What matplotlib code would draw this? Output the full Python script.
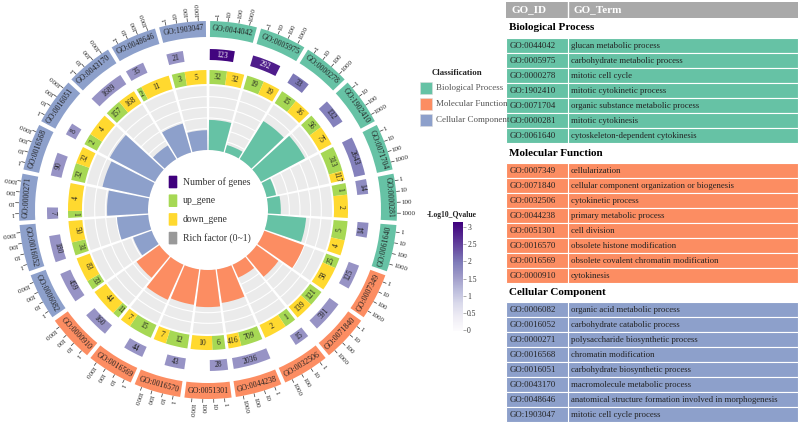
import numpy as np
import matplotlib.pyplot as plt
from matplotlib.patches import Wedge, Rectangle, FancyBboxPatch
from matplotlib import colors, cm

plt.rcParams['font.family'] = ['Liberation Serif', 'DejaVu Serif']

# ---- data ----
go_ids = ['GO:0044042', 'GO:0005975', 'GO:0000278', 'GO:1902410', 'GO:0071704',
          'GO:0000281', 'GO:0061640',
          'GO:0007349', 'GO:0071840', 'GO:0032506', 'GO:0044238', 'GO:0051301',
          'GO:0016570', 'GO:0016569', 'GO:0000910',
          'GO:0006082', 'GO:0016052', 'GO:0000271', 'GO:0016568', 'GO:0016051',
          'GO:0043170', 'GO:0048646', 'GO:1903047']
go_terms = ['glucan metabolic process', 'carbohydrate metabolic process', 'mitotic cell cycle',
            'mitotic cytokinetic process', 'organic substance metabolic process',
            'mitotic cytokinesis', 'cytoskeleton-dependent cytokinesis',
            'cellularization', 'cellular component organization or biogenesis',
            'cytokinetic process', 'primary metabolic process', 'cell division',
            'obsolete histone modification', 'obsolete covalent chromatin modification',
            'cytokinesis',
            'organic acid metabolic process', 'carbohydrate catabolic process',
            'polysaccharide biosynthetic process', 'chromatin modification',
            'carbohydrate biosynthetic process', 'macromolecule metabolic process',
            'anatomical structure formation involved in morphogenesis',
            'mitotic cell cycle process']
group_names = ['Biological Process', 'Molecular Function', 'Cellular Component']
group_sizes = [7, 8, 8]
group_colors = ['#66c2a5', '#fc8d62', '#8da0cb']

gene_num = [123, 292, 33, 132, 2643, 14, 14,
            125, 591, 15, 2036, 28, 43, 44, 160,
            459, 180, 7, 90, 8, 1689, 35, 21]
neg_log_q = [3.1, 2.85, 2.0, 1.9, 1.9, 1.75, 1.75,
             1.65, 1.65, 1.65, 1.65, 1.65, 1.65, 1.65, 1.65,
             1.65, 1.65, 1.65, 1.65, 1.65, 1.65, 1.65, 1.65]
up_gene = [32, 19, 15, 56, 313, 1, 5,
           25, 121, 1, 709, 6, 12, 15, 11,
           33, 31, 1, 32, 2, 157, 2, 3]
down_gene = [32, 19, 16, 75, 117, 2, 4,
             58, 139, 2, 416, 10, 7, 7, 44,
             83, 50, 4, 32, 4, 168, 11, 5]
rich_factor = [0.47, 0.12, 0.70, 0.78, 0.15, 0.20, 0.60,
               0.66, 0.42, 0.22, 0.53, 0.58, 0.56, 0.60, 0.44,
               0.31, 0.49, 0.64, 0.75, 0.80, 0.25, 0.47, 0.31]
tick_labels = ['1', '10', '100', '1000']
cbar_ticks = [0, 0.5, 1, 1.5, 2, 2.5, 3]

sector_color = []
for c, n in zip(group_colors, group_sizes):
    sector_color += [c] * n

up_color = '#a6d854'
down_color = '#ffd92f'
grey_bg = '#ebebeb'
txt_col = '#222222'

W_PX, H_PX = 801, 423
fig = plt.figure(figsize=(W_PX / 100, H_PX / 100), dpi=100)
ax = fig.add_axes([0, 0, 1, 1])
ax.set_xlim(0, W_PX)
ax.set_ylim(0, H_PX)
ax.axis('off')


def Y(y):
    return H_PX - y


CX, CY = 208, Y(210)
n_sec = len(go_ids)
SW = 360.0 / n_sec
GAP = 1.3

cmap = plt.get_cmap('Purples')
norm = colors.Normalize(vmin=-0.03, vmax=3.15)


def ang(i, f):
    start = 90 - i * SW - GAP / 2
    return start - f * (SW - GAP)


def wedge(i, f1, f2, r_in, r_out, color, **kw):
    a1, a2 = ang(i, f2), ang(i, f1)
    ax.add_patch(Wedge((CX, CY), r_out, a1, a2, width=r_out - r_in,
                       facecolor=color, edgecolor='none', **kw))


def polar(r, a):
    t = np.deg2rad(a)
    return CX + r * np.cos(t), CY + r * np.sin(t)


def tan_rot(a):
    return a % 180 - 90


# ---- track radii ----
R_ID = (173, 189)
R_NUM = (150, 161)
R_UD = (126, 140)
R_RICH = (60, 124)

for i in range(n_sec):
    # outer ID track
    wedge(i, 0, 1, R_ID[0], R_ID[1], sector_color[i])
    am = ang(i, 0.5)
    x, y = polar(sum(R_ID) / 2, am)
    ax.text(x, y, go_ids[i], fontsize=5.7, color=txt_col, rotation=tan_rot(am),
            rotation_mode='anchor', ha='center', va='center')
    # log ticks
    for k, lab in enumerate(tick_labels):
        at = ang(i, 0.15 + k * 0.23)
        x0, y0 = polar(R_ID[1] + 0.5, at)
        x1, y1 = polar(R_ID[1] + 3.5, at)
        ax.plot([x0, x1], [y0, y1], color='#333333', lw=0.5)
        xt, yt = polar(R_ID[1] + 4.5, at)
        ax.text(xt, yt, lab, fontsize=5, color=txt_col, rotation=at,
                rotation_mode='anchor', ha='left', va='center')

    # number of genes track
    f = min((np.log10(gene_num[i]) + 0.25) / 3.75, 1)
    wedge(i, 0, f, R_NUM[0], R_NUM[1], cmap(norm(neg_log_q[i])))
    am = ang(i, f / 2)
    x, y = polar(sum(R_NUM) / 2, am)
    ax.text(x, y, str(gene_num[i]), fontsize=5.5,
            color='white' if neg_log_q[i] > 2.5 else txt_col,
            rotation=tan_rot(am), rotation_mode='anchor', ha='center', va='center')

    # up / down track
    tot = up_gene[i] + down_gene[i]
    fu = up_gene[i] / tot
    wedge(i, 0, fu, R_UD[0], R_UD[1], up_color)
    wedge(i, fu, 1, R_UD[0], R_UD[1], down_color)
    for f1, f2, v in [(0, fu, up_gene[i]), (fu, 1, down_gene[i])]:
        am = ang(i, (f1 + f2) / 2)
        x, y = polar(sum(R_UD) / 2, am)
        ax.text(x, y, str(v), fontsize=5.5, color=txt_col, rotation=tan_rot(am),
                rotation_mode='anchor', ha='center', va='center')

    # rich factor background
    wedge(i, 0, 1, R_RICH[0], R_RICH[1], grey_bg)

# white grid circles inside the rich factor track
for k in range(1, 6):
    r = R_RICH[0] + k * (R_RICH[1] - R_RICH[0]) / 6
    ax.add_patch(plt.Circle((CX, CY), r, fill=False, edgecolor='white', lw=0.8))

for i in range(n_sec):
    h = R_RICH[0] + rich_factor[i] * (R_RICH[1] - R_RICH[0])
    wedge(i, 0, 1, R_RICH[0], h, sector_color[i])

# ---- legend in the centre ----
legend_items = [('Number of genes', '#3f007d'), ('up_gene', up_color),
                ('down_gene', down_color), ('Rich factor (0~1)', '#999999')]
for k, (lab, col) in enumerate(legend_items):
    yy = Y(182 + k * 18.7)
    ax.add_patch(FancyBboxPatch((169.5, yy - 5.5), 7, 11, boxstyle='round,pad=0.8',
                                facecolor=col, edgecolor='none'))
    ax.text(183, yy, lab, fontsize=7, color='#333333', ha='left', va='center')

# ---- classification legend ----
ax.text(432, Y(73), 'Classification', fontsize=6.3, fontweight='bold',
        color='#222222', ha='left', va='center')
for k, (lab, col) in enumerate(zip(group_names, group_colors)):
    yy = Y(88 + k * 16)
    ax.add_patch(Rectangle((420, yy - 6), 12, 12, facecolor=col, edgecolor='#dddddd', lw=0.4))
    ax.text(436, yy, lab, fontsize=6.5, color='#555555', ha='left', va='center')

# ---- colour bar ----
ax.text(452, Y(215), '-Log10_Qvalue', fontsize=5.5, fontweight='bold',
        color='#222222', ha='center', va='center')
cax = fig.add_axes([453 / W_PX, (H_PX - 331) / H_PX, 10 / W_PX, 109 / H_PX])
sm = cm.ScalarMappable(norm=norm, cmap=cmap)
cb = fig.colorbar(sm, cax=cax, ticks=cbar_ticks)
cb.outline.set_visible(False)
cb.ax.tick_params(labelsize=5.5, length=2, width=0.5, color='#888888',
                  labelcolor='#333333', pad=1)
cb.ax.set_yticklabels([('%g' % t) for t in cbar_ticks])

# ---- table ----
TX0, TX1, TDIV = 506, 798, 568
ax.add_patch(Rectangle((TX0, Y(18)), TX1 - TX0, 16, facecolor='#a9a9a9', edgecolor='none'))
ax.plot([TDIV, TDIV], [Y(18), Y(2)], color='white', lw=1)
ax.text(512, Y(10), 'GO_ID', fontsize=8, fontweight='bold', color='white', va='center')
ax.text(573, Y(10), 'GO_Term', fontsize=8, fontweight='bold', color='white', va='center')

title_y = [27, 153, 292]
rows_y0 = [38.3, 163, 302]
ROW_H = 15
idx = 0
for g, (name, n, col) in enumerate(zip(group_names, group_sizes, group_colors)):
    ax.text(509, Y(title_y[g]), name, fontsize=8, fontweight='bold', color='black', va='center')
    for r in range(n):
        top = rows_y0[g] + r * ROW_H
        ax.add_patch(Rectangle((TX0, Y(top + ROW_H)), TX1 - TX0, ROW_H,
                               facecolor=col, edgecolor='white', lw=0.8))
        ax.plot([TDIV, TDIV], [Y(top + ROW_H), Y(top)], color='white', lw=0.8)
        ax.text(510, Y(top + ROW_H / 2), go_ids[idx], fontsize=6.3, color=txt_col, va='center')
        ax.text(571, Y(top + ROW_H / 2), go_terms[idx], fontsize=6.3, color=txt_col, va='center')
        idx += 1

fig.savefig('out.png', dpi=100)
